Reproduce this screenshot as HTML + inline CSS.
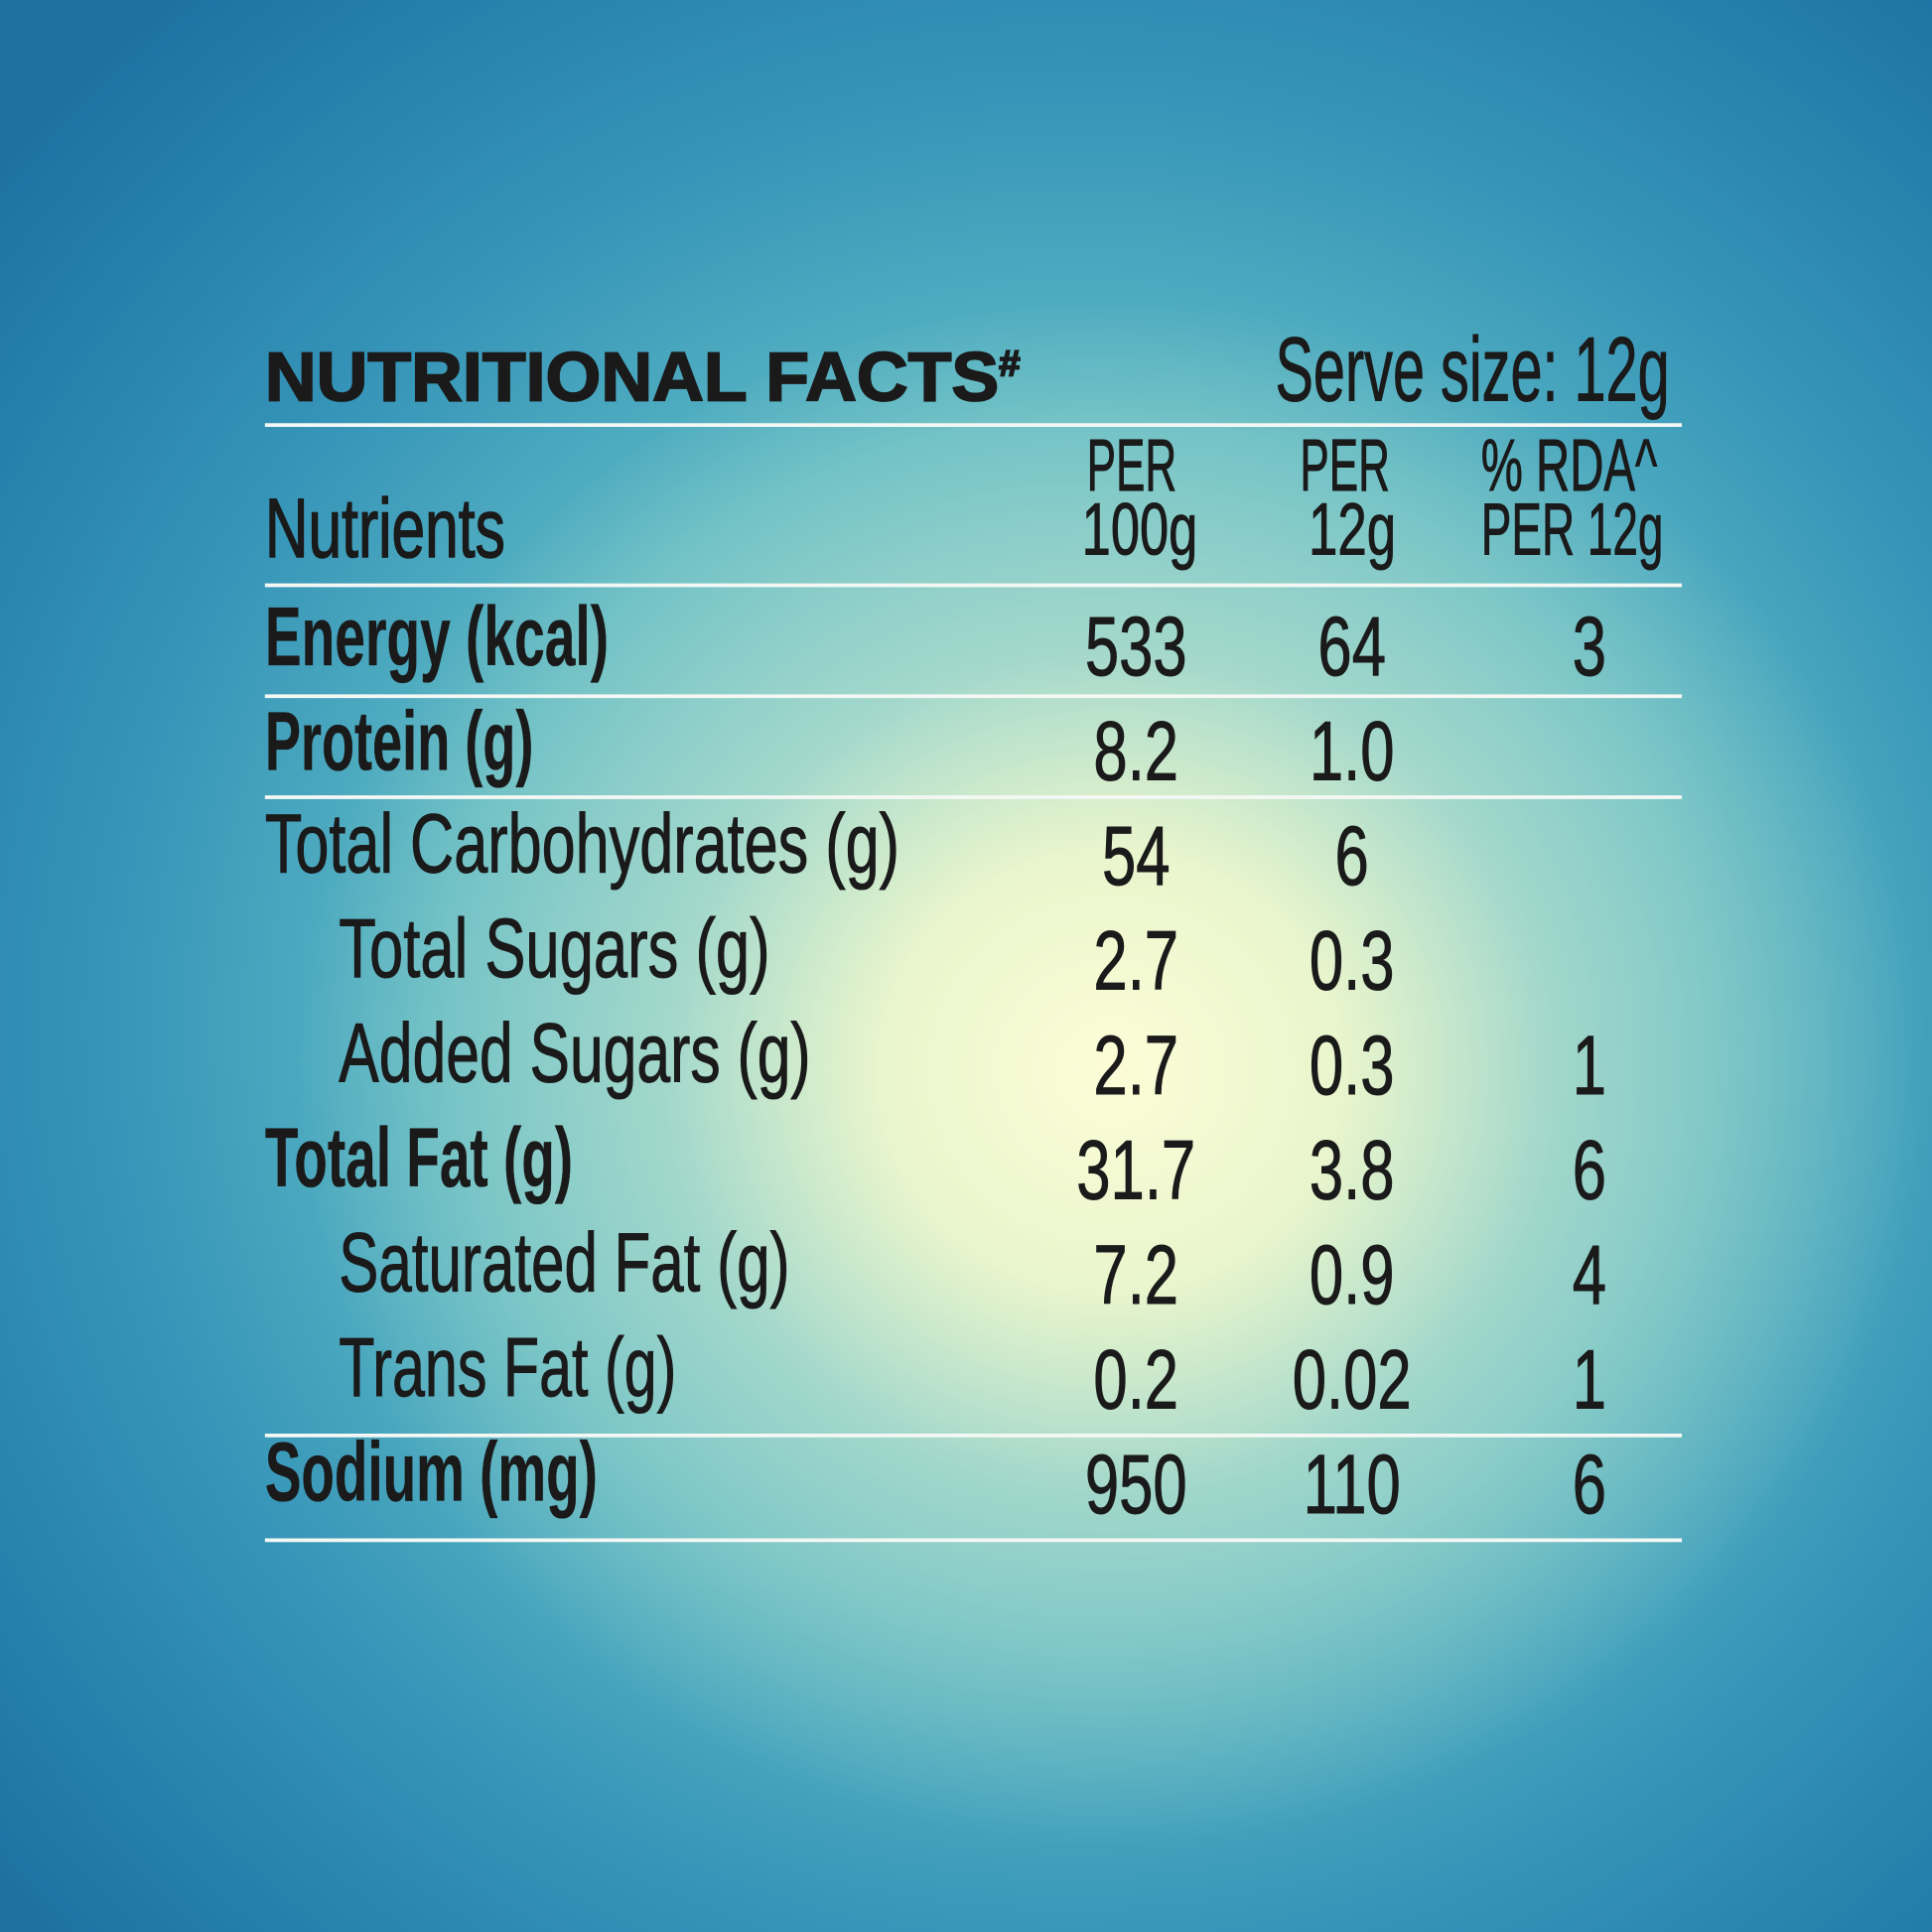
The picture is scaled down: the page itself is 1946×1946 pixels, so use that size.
<!DOCTYPE html>
<html><head><meta charset="utf-8"><style>
html,body{margin:0;padding:0}
body{width:1946px;height:1946px;overflow:hidden;
background:
radial-gradient(ellipse 820px 780px at 1120px 1080px, rgba(252,253,215,1) 0%, rgba(240,248,205,0.95) 28%, rgba(185,225,205,0.7) 55%, rgba(110,195,200,0) 100%),
radial-gradient(ellipse 1400px 1350px at 1080px 1030px, #86d0cc 0%, #5cb8c4 45%, #3594b8 70%, #1d72a2 100%);}
svg{position:absolute;left:0;top:0}
text{font-family:"Liberation Sans",sans-serif;fill:#1a1a1a;stroke:#1a1a1a;stroke-width:0.8}
text[font-weight]{stroke-width:0.3}
.n{font-size:68px;text-anchor:middle}
</style></head><body>
<svg width="1946" height="1946" viewBox="0 0 1568 1568">
<g stroke="#f4f8f4" stroke-width="3">
<line x1="215" y1="345" x2="1365" y2="345"/>
<line x1="215" y1="475" x2="1365" y2="475"/>
<line x1="215" y1="565" x2="1365" y2="565"/>
<line x1="215" y1="647" x2="1365" y2="647"/>
<line x1="215" y1="1165" x2="1365" y2="1165"/>
<line x1="215" y1="1250" x2="1365" y2="1250"/>
</g>
<text x="215" y="325" font-size="56" font-weight="900" textLength="613" lengthAdjust="spacingAndGlyphs" style="stroke-width:1.5">NUTRITIONAL FACTS<tspan font-size="30" dy="-20">#</tspan></text>
<text x="1035" y="325" font-size="74" textLength="320" lengthAdjust="spacingAndGlyphs">Serve size: 12g</text>
<g font-size="60" style="stroke-width:1.2">
<text x="882" y="398" textLength="73" lengthAdjust="spacingAndGlyphs">PER</text>
<text x="878" y="450" textLength="94" lengthAdjust="spacingAndGlyphs">100g</text>
<text x="1055" y="398" textLength="73" lengthAdjust="spacingAndGlyphs">PER</text>
<text x="1062" y="450" textLength="71" lengthAdjust="spacingAndGlyphs">12g</text>
<text x="1202" y="398" textLength="143" lengthAdjust="spacingAndGlyphs">% RDA^</text>
<text x="1202" y="450" textLength="148" lengthAdjust="spacingAndGlyphs">PER 12g</text>
</g>
<g font-size="68">
<text x="215" y="452" textLength="195" lengthAdjust="spacingAndGlyphs" style="stroke-width:1.2">Nutrients</text>
<text x="215" y="540" font-weight="bold" textLength="279" lengthAdjust="spacingAndGlyphs">Energy (kcal)</text>
<text x="215" y="625" font-weight="bold" textLength="218" lengthAdjust="spacingAndGlyphs">Protein (g)</text>
<text x="215" y="708" textLength="515" lengthAdjust="spacingAndGlyphs">Total Carbohydrates (g)</text>
<text x="275" y="793" textLength="350" lengthAdjust="spacingAndGlyphs">Total Sugars (g)</text>
<text x="275" y="878" textLength="383" lengthAdjust="spacingAndGlyphs">Added Sugars (g)</text>
<text x="215" y="963" font-weight="bold" textLength="250" lengthAdjust="spacingAndGlyphs">Total Fat (g)</text>
<text x="275" y="1048" textLength="366" lengthAdjust="spacingAndGlyphs">Saturated Fat (g)</text>
<text x="275" y="1133" textLength="274" lengthAdjust="spacingAndGlyphs">Trans Fat (g)</text>
<text x="215" y="1218" font-weight="bold" textLength="270" lengthAdjust="spacingAndGlyphs">Sodium (mg)</text>
</g>
<g transform="scale(0.73,1)">
<text class="n" x="1263" y="548">533</text><text class="n" x="1503" y="548">64</text><text class="n" x="1767" y="548">3</text>
<text class="n" x="1263" y="633">8.2</text><text class="n" x="1503" y="633">1.0</text>
<text class="n" x="1263" y="718">54</text><text class="n" x="1503" y="718">6</text>
<text class="n" x="1263" y="803">2.7</text><text class="n" x="1503" y="803">0.3</text>
<text class="n" x="1263" y="888">2.7</text><text class="n" x="1503" y="888">0.3</text><text class="n" x="1767" y="888">1</text>
<text class="n" x="1263" y="973">31.7</text><text class="n" x="1503" y="973">3.8</text><text class="n" x="1767" y="973">6</text>
<text class="n" x="1263" y="1058">7.2</text><text class="n" x="1503" y="1058">0.9</text><text class="n" x="1767" y="1058">4</text>
<text class="n" x="1263" y="1143">0.2</text><text class="n" x="1503" y="1143">0.02</text><text class="n" x="1767" y="1143">1</text>
<text class="n" x="1263" y="1228">950</text><text class="n" x="1503" y="1228">110</text><text class="n" x="1767" y="1228">6</text>
</g>
</svg>
</body></html>
